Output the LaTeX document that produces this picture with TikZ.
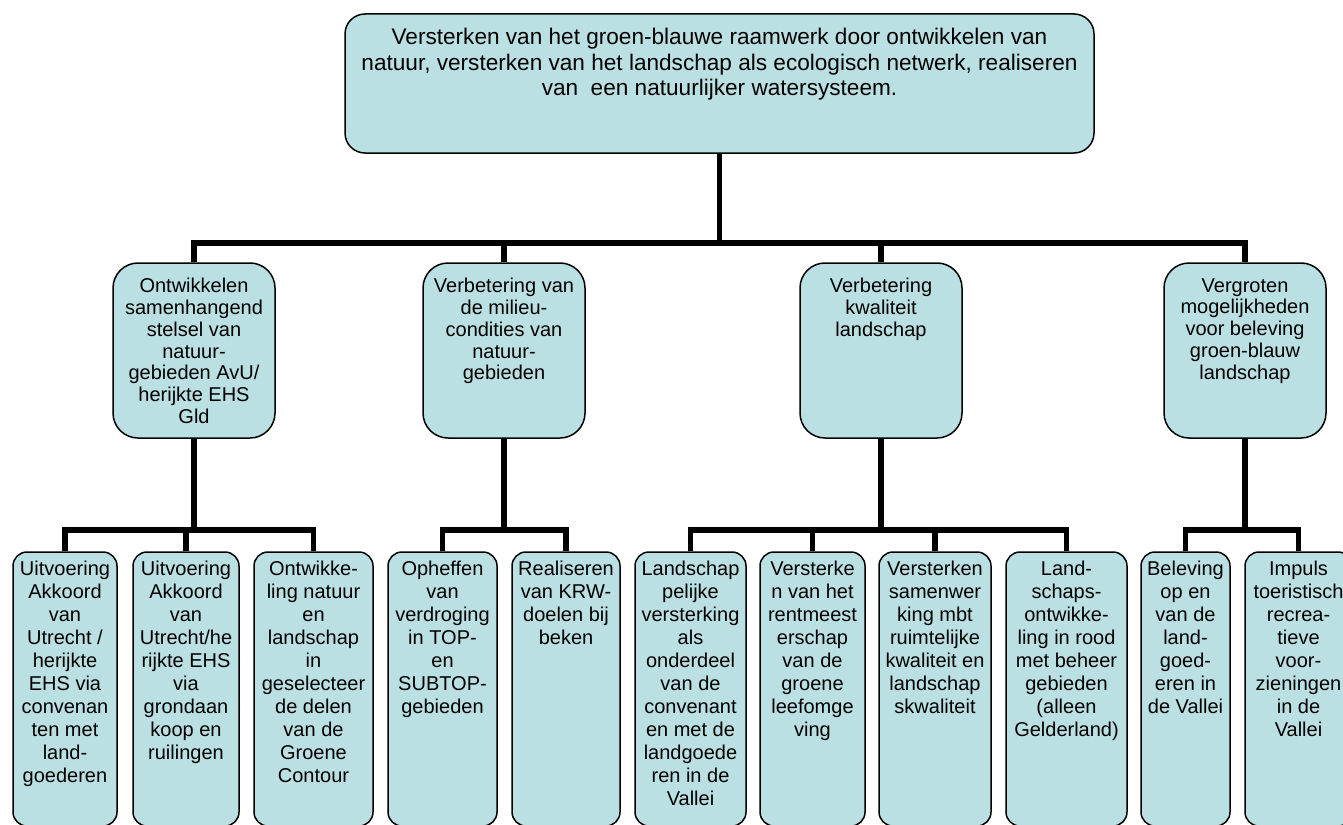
\documentclass[tikz,border=0pt]{standalone}
\usepackage{fontspec}
\setmainfont{Liberation Sans}
\definecolor{boxfill}{RGB}{186,224,227}
\tikzset{
  box/.style={draw=black, line width=1.5pt, fill=boxfill, inner sep=0pt},
  topbox/.style={box, rounded corners=20pt, minimum width=749pt, minimum height=139pt},
  midbox/.style={box, rounded corners=25pt, minimum width=162pt, minimum height=175pt},
  lowbox/.style={box, rounded corners=14pt, minimum height=274pt},
  toplab/.style={anchor=north, yshift=-15pt, align=center, inner sep=0pt, font=\fontsize{22.6}{25.5}\selectfont},
  midlab/.style={anchor=north, yshift=-16pt, align=center, inner sep=0pt, font=\fontsize{20}{21.7}\selectfont},
  lowlab/.style={anchor=north, yshift=-10pt, align=center, inner sep=0pt, font=\fontsize{20}{23}\selectfont},
  conn/.style={draw=black, line width=5.5pt, line join=miter}
}
\begin{document}
\begin{tikzpicture}[x=1pt, y=-1pt]
\useasboundingbox (0,0) rectangle (1343,824);
\fill[white] (0,0) rectangle (1343,824);

% top
\node[topbox, label={[toplab]north:{Versterken van het groen-blauwe raamwerk door ontwikkelen van\\natuur, versterken van het landschap als ecologisch netwerk, realiseren\\van \ een natuurlijker watersysteem.}}] (top) at (719.5,83.5) {};

% level 2
\node[midbox, label={[midlab]north:{Ontwikkelen\\samenhangend\\stelsel van\\natuur-\\gebieden AvU/\\herijkte EHS\\Gld}}] (m1) at (194,350.5) {};
\node[midbox, label={[midlab]north:{Verbetering van\\de milieu-\\condities van\\natuur-\\gebieden}}] (m2) at (504,350.5) {};
\node[midbox, label={[midlab]north:{Verbetering\\kwaliteit\\landschap}}] (m3) at (881,350.5) {};
\node[midbox, label={[midlab]north:{Vergroten\\mogelijkheden\\voor beleving\\groen-blauw\\landschap}}] (m4) at (1245,350.5) {};

% level 3
\node[lowbox, minimum width=104pt, label={[lowlab]north:{Uitvoering\\Akkoord\\van\\Utrecht /\\herijkte\\EHS via\\convenan\\ten met\\land-\\goederen}}] (l1) at (65,689) {};
\node[lowbox, minimum width=106pt, label={[lowlab]north:{Uitvoering\\Akkoord\\van\\Utrecht/he\\rijkte EHS\\via\\grondaan\\koop en\\ruilingen}}] (l2) at (186,689) {};
\node[lowbox, minimum width=119pt, label={[lowlab]north:{Ontwikke-\\ling natuur\\en\\landschap\\in\\geselecteer\\de delen\\van de\\Groene\\Contour}}] (l3) at (313.5,689) {};
\node[lowbox, minimum width=109pt, label={[lowlab]north:{Opheffen\\van\\verdroging\\in TOP-\\en\\SUBTOP-\\gebieden}}] (l4) at (442.5,689) {};
\node[lowbox, minimum width=108pt, label={[lowlab]north:{Realiseren\\van KRW-\\doelen bij\\beken}}] (l5) at (566,689) {};
\node[lowbox, minimum width=111pt, label={[lowlab]north:{Landschap\\pelijke\\versterking\\als\\onderdeel\\van de\\convenant\\en met de\\landgoede\\ren in de\\Vallei}}] (l6) at (690.5,689) {};
\node[lowbox, minimum width=105pt, label={[lowlab]north:{Versterke\\n van het\\rentmeest\\erschap\\van de\\groene\\leefomge\\ving}}] (l7) at (812.5,689) {};
\node[lowbox, minimum width=112pt, label={[lowlab]north:{Versterken\\samenwer\\king mbt\\ruimtelijke\\kwaliteit en\\landschap\\skwaliteit}}] (l8) at (935,689) {};
\node[lowbox, minimum width=121pt, label={[lowlab]north:{Land-\\schaps-\\ontwikke-\\ling in rood\\met beheer\\gebieden\\(alleen\\Gelderland)}}] (l9) at (1066.5,689) {};
\node[lowbox, minimum width=89pt, label={[lowlab]north:{Beleving\\op en\\van de\\land-\\goed-\\eren in\\de Vallei}}] (l10) at (1185.5,689) {};
\node[lowbox, minimum width=107pt, label={[lowlab]north:{Impuls\\toeristisch\\recrea-\\tieve\\voor-\\zieningen\\in de\\Vallei}}] (l11) at (1298.5,689) {};

% bar levels
\coordinate (b0) at (0,243);
\coordinate (b1) at (0,530);

% connectors top -> level 2
\draw[conn] (top.south) -- (top.south |- b0);
\draw[conn] (m1.north) -- (m1.north |- b0) -- (m4.north |- b0) -- (m4.north);
\draw[conn] (m2.north) -- (m2.north |- b0);
\draw[conn] (m3.north) -- (m3.north |- b0);

% group 1
\draw[conn] (m1.south) -- (m1.south |- b1);
\draw[conn] (l1.north) -- (l1.north |- b1) -- (l3.north |- b1) -- (l3.north);
\draw[conn] (l2.north) -- (l2.north |- b1);
% group 2
\draw[conn] (m2.south) -- (m2.south |- b1);
\draw[conn] (l4.north) -- (l4.north |- b1) -- (l5.north |- b1) -- (l5.north);
% group 3
\draw[conn] (m3.south) -- (m3.south |- b1);
\draw[conn] (l6.north) -- (l6.north |- b1) -- (l9.north |- b1) -- (l9.north);
\draw[conn] (l7.north) -- (l7.north |- b1);
\draw[conn] (l8.north) -- (l8.north |- b1);
% group 4
\draw[conn] (m4.south) -- (m4.south |- b1);
\draw[conn] (l10.north) -- (l10.north |- b1) -- (l11.north |- b1) -- (l11.north);
\end{tikzpicture}
\end{document}
